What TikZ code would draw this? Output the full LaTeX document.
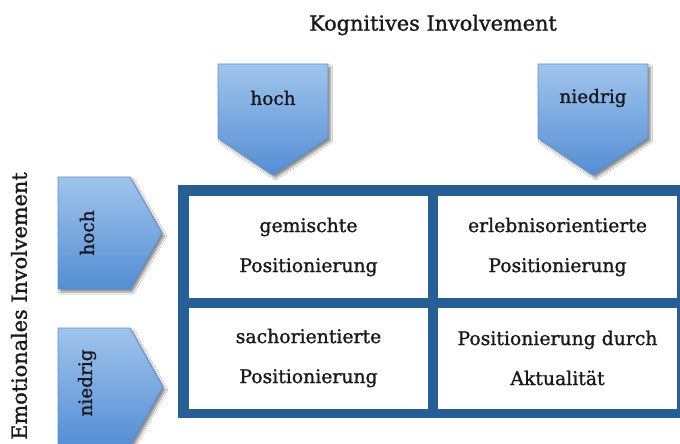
\documentclass[tikz,border=0pt]{standalone}
\usepackage{fontspec}
\setmainfont{DejaVu Serif}[RawFeature={embolden=1.2}]
\usetikzlibrary{shadows.blur}
\definecolor{framecol}{RGB}{40,94,150}
\definecolor{arrowtop}{RGB}{160,196,236}
\definecolor{arrowbot}{RGB}{84,142,212}
\definecolor{arrowedge}{RGB}{92,142,204}
\definecolor{inkcol}{RGB}{24,24,32}
\tikzset{
  pointer/.style={top color=arrowtop, bottom color=arrowbot, draw=arrowedge,
    line width=0.8pt, line join=miter,
    blur shadow={shadow xshift=2.5pt, shadow yshift=-3pt, shadow blur steps=8, shadow opacity=45}},
  celltext/.style={align=center, text=inkcol, font=\fontsize{18.8}{40}\selectfont},
  tagtext/.style={text=inkcol, font=\fontsize{18.5}{20}\selectfont},
  axistext/.style={text=inkcol, font=\fontsize{20.8}{24}\selectfont},
}
\begin{document}
\begin{tikzpicture}[x=1pt, y=-1pt]
\useasboundingbox (0,0) rectangle (680,444);
\clip (0,0) rectangle (680,444);
\fill[white] (0,0) rectangle (680,444);

% axis titles
\node[axistext] (kog) at (433,25) {Kognitives Involvement};
\node[axistext, rotate=90] (emo) at (19,306) {Emotionales Involvement};

% downward pointers for the cognitive axis
\path[pointer] (218,64) -- (328,64) -- (328,138) -- (273,175) -- (218,138) -- cycle;
\path[pointer] (538,64) -- (648,64) -- (648,138) -- (593,175) -- (538,138) -- cycle;
\node[tagtext] (khoch) at (273,98) {hoch};
\node[tagtext] (kniedrig) at (593,98) {niedrig};

% rightward pointers for the emotional axis
\path[pointer] (58,177) -- (130,177) -- (162,233) -- (130,289) -- (58,289) -- cycle;
\path[pointer] (58,328) -- (130,328) -- (163,387) -- (130,446) -- (58,446) -- cycle;
\node[tagtext, rotate=90] (ehoch) at (87,233) {hoch};
\node[tagtext, rotate=90] (eniedrig) at (87,383) {niedrig};

% the four-field matrix
\fill[framecol] (178,185) rectangle (690,418);
\fill[white] (189,196) rectangle (428,298);
\fill[white] (438,196) rectangle (677,298);
\fill[white] (189,308) rectangle (428,409);
\fill[white] (438,308) rectangle (677,409);

\node[celltext] (c11) at (308.5,247) {gemischte\\Positionierung};
\node[celltext] (c12) at (557.5,247) {erlebnisorientierte\\Positionierung};
\node[celltext] (c21) at (308.5,358) {sachorientierte\\Positionierung};
\node[celltext] (c22) at (557.5,358) {Positionierung durch\\Aktualität};
\end{tikzpicture}
\end{document}
